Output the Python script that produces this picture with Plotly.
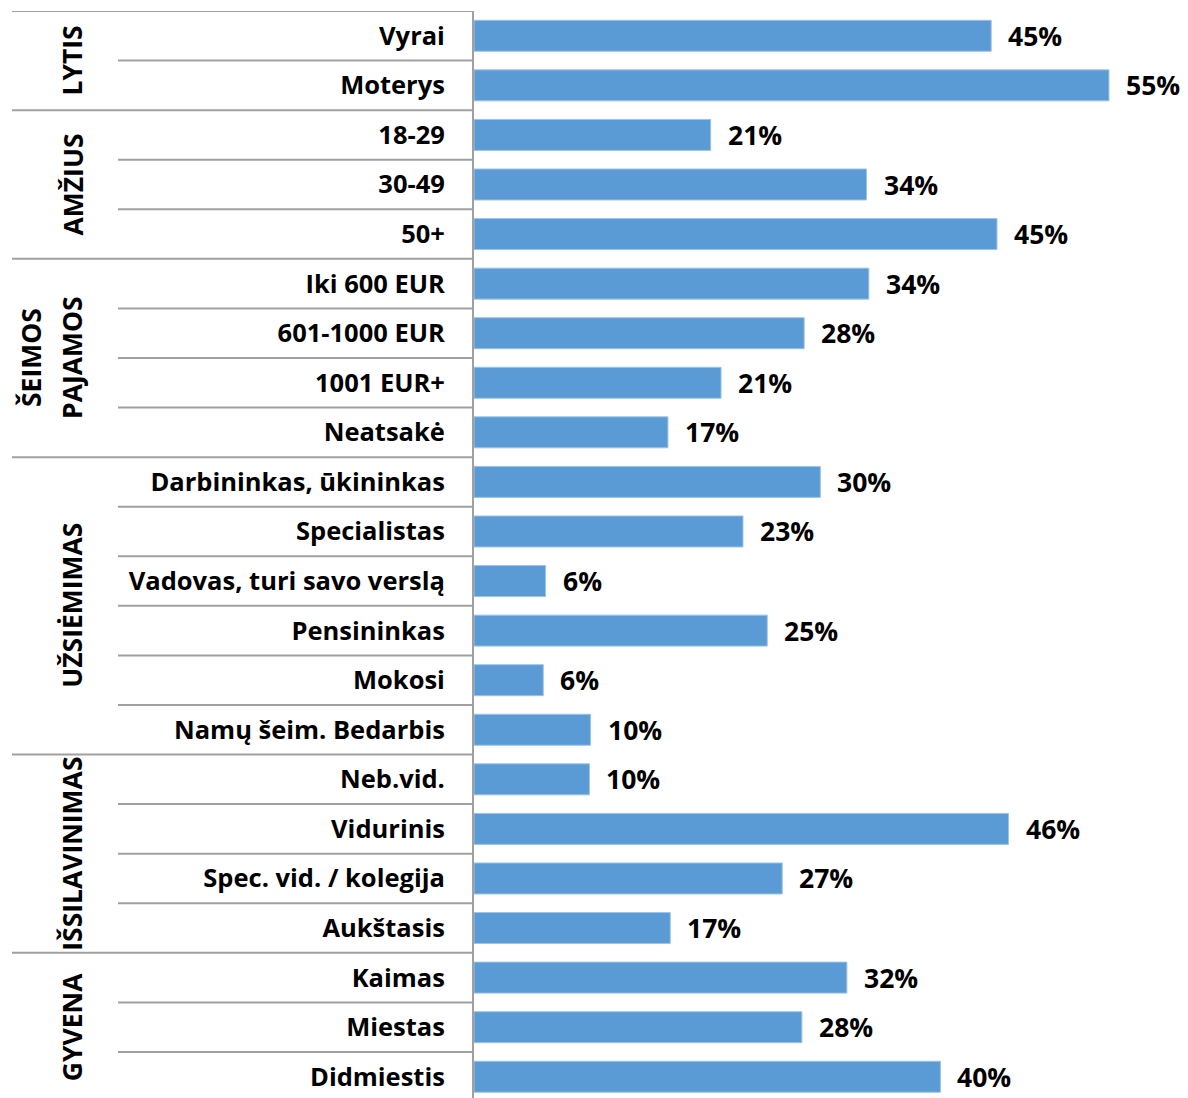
import plotly.graph_objects as go

categories = ["Vyrai", "Moterys", "18-29", "30-49", "50+",
              "Iki 600 EUR", "601-1000 EUR", "1001 EUR+", "Neatsakė",
              "Darbininkas, ūkininkas", "Specialistas", "Vadovas, turi savo verslą",
              "Pensininkas", "Mokosi", "Namų šeim. Bedarbis",
              "Neb.vid.", "Vidurinis", "Spec. vid. / kolegija", "Aukštasis",
              "Kaimas", "Miestas", "Didmiestis"]
values = [44.8, 55.0, 20.5, 34.0, 45.3,
          34.2, 28.6, 21.4, 16.8,
          30.0, 23.3, 6.2, 25.4, 6.0, 10.1,
          10.0, 46.3, 26.7, 17.0,
          32.3, 28.4, 40.4]
value_labels = ["45%", "55%", "21%", "34%", "45%",
                "34%", "28%", "21%", "17%",
                "30%", "23%", "6%", "25%", "6%", "10%",
                "10%", "46%", "27%", "17%",
                "32%", "28%", "40%"]
group_names = [["LYTIS"], ["AMŽIUS"], ["ŠEIMOS", "PAJAMOS"], ["UŽSIĖMIMAS"],
               ["IŠSILAVINIMAS"], ["GYVENA"]]
group_sizes = [2, 3, 4, 6, 4, 3]

OFF = 8  # default page body margin
W, H = 1188 - OFF, 1098 - OFF
ML, MR, MT, MB = 474 - OFF, 4, 11 - OFF, 0
PW = W - ML - MR
ROW_PX = 49.57
BAR_COLOR = "#5B9BD5"
LINE_COLOR = "#A0A0A0"
FONT = "Open Sans"
FS_TICK = 25.5
FS_VAL = 26.5
FS_GROUP = 26.5

def px_to_paper(px):
    return (px - OFF - ML) / PW

fig = go.Figure()
fig.add_trace(go.Bar(
    y=categories, x=values, orientation="h",
    marker=dict(color=BAR_COLOR, line=dict(color="#9DC3E6", width=1)),
    hoverinfo="skip",
))

for c, v, t in zip(categories, values, value_labels):
    fig.add_annotation(x=v, y=c, xref="x", yref="y", text=t, showarrow=False,
                       xanchor="left", xshift=15,
                       font=dict(family=FONT, size=FS_VAL, color="black", weight="bold"))

shapes = []
n = len(categories)
group_starts = []
s = 0
for g in group_sizes:
    group_starts.append(s)
    s += g
for k in range(n):
    x0 = px_to_paper(12) if k in group_starts else px_to_paper(118)
    shapes.append(dict(type="line", xref="paper", yref="y", x0=x0, x1=0,
                       y0=k - 0.5, y1=k - 0.5, line=dict(color=LINE_COLOR, width=2)))
fig.update_layout(shapes=shapes)

for lines, start, size in zip(group_names, group_starts, group_sizes):
    center = start + (size - 1) / 2
    xs = [72] if len(lines) == 1 else [31, 72]
    for name, xpx in zip(lines, xs):
        fig.add_annotation(x=px_to_paper(xpx), y=center, xref="paper", yref="y",
                           text=name, showarrow=False, textangle=-90,
                           xanchor="center", yanchor="middle",
                           font=dict(family=FONT, size=FS_GROUP, color="black", weight="bold"))

rows_visible = (H - MT - MB) / ROW_PX
fig.update_layout(
    width=W, height=H,
    margin=dict(l=ML, r=MR, t=MT, b=MB),
    plot_bgcolor="white", paper_bgcolor="white",
    bargap=0.375,
    showlegend=False,
    xaxis=dict(range=[0, 61.5], showgrid=False, zeroline=False, showticklabels=False,
               showline=False, fixedrange=True),
    yaxis=dict(type="category", range=[-0.5 + rows_visible, -0.5], autorange=False,
               showgrid=False, zeroline=False, showline=True, linecolor=LINE_COLOR,
               linewidth=2, ticks="", ticklabelstandoff=22,
               tickfont=dict(family=FONT, size=FS_TICK, color="black", weight="bold")),
)

fig.write_html("out.html")
